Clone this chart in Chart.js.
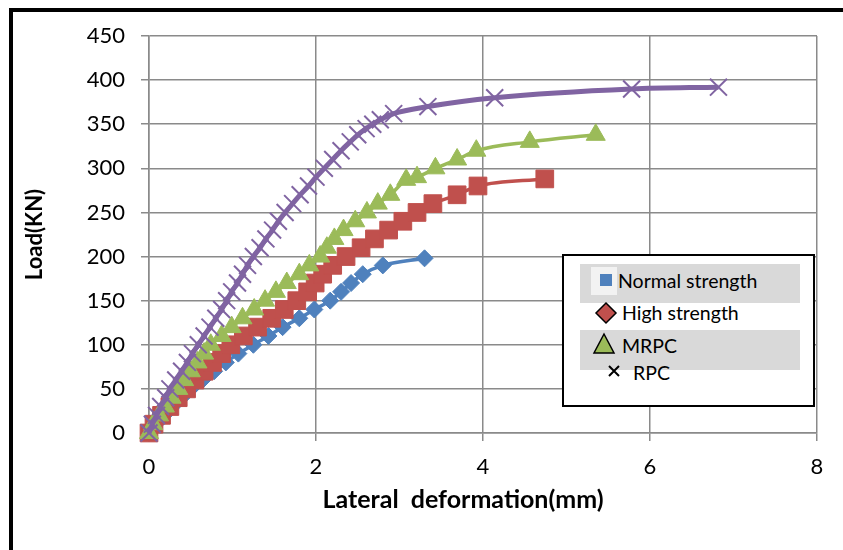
<!DOCTYPE html>
<html>
<head>
<meta charset="utf-8">
<script src="https://cdn.jsdelivr.net/npm/chart.js@4/dist/chart.umd.min.js"></script>
<style>
  body { margin: 0; background: #fff; }
  #wrap { position: relative; width: 843px; height: 550px; overflow: hidden; }
  #frame { position: absolute; left: 9px; top: 8px; width: 900px; height: 600px;
           border-left: 4px solid #000; border-top: 4px solid #000; }
  #legend { position: absolute; left: 562px; top: 254px; width: 249px; height: 149px;
            border: 2px solid #000; background: #fff; font-family: Lato, sans-serif;
            font-size: 19.5px; color: #000; }
  .band { position: absolute; left: 16px; width: 220px; background: #d9d9d9; }
  .item { position: absolute; white-space: nowrap; line-height: 20px; }
  .item svg { position: absolute; overflow: visible; }
</style>
</head>
<body>
<div id="wrap">
  <div id="frame"></div>
  <canvas id="chart"></canvas>
  <div id="legend">
    <div class="band" style="top:8px;height:39px"></div>
    <div class="band" style="top:74px;height:40px"></div>
    <div class="item" style="left:27px;top:11px;width:26px;height:28px;background:#f2f2f2"></div>
    <div class="item" style="left:36px;top:16px">
      <svg width="12" height="12" style="left:0;top:2px"><rect x="0" y="0" width="12" height="12" fill="#4F81BD"/></svg>
      <span style="position:absolute;left:18px;top:-1px">Normal strength</span>
    </div>
    <div class="item" style="left:30px;top:47px">
      <svg width="20" height="20" style="left:2px;top:0"><polygon points="10,0 20,10 10,20 0,10" fill="#C0504D" stroke="#000" stroke-width="1.5"/></svg>
      <span style="position:absolute;left:28px;top:0">High strength</span>
    </div>
    <div class="item" style="left:30px;top:80px">
      <svg width="20" height="20" style="left:0;top:-2px"><polygon points="10,0 20,19 0,19" fill="#9BBB59" stroke="#000" stroke-width="1.5"/></svg>
      <span style="position:absolute;left:28px;top:0">MRPC</span>
    </div>
    <div class="item" style="left:45px;top:107px">
      <svg width="10" height="10" style="left:0;top:3px"><path d="M0 0 L10 10 M10 0 L0 10" stroke="#000" stroke-width="2"/></svg>
      <span style="position:absolute;left:24px;top:0">RPC</span>
    </div>
  </div>
</div>
<script>
const normalLoad = [0, 10, 20, 30, 40, 50, 60, 70, 80, 90, 100, 110, 120, 130, 140, 150, 160, 170, 180, 190, 198]
const normalDef = [0, 0.08, 0.18, 0.28, 0.39, 0.5, 0.64, 0.78, 0.92, 1.07, 1.25, 1.43, 1.6, 1.8, 1.98, 2.17, 2.3, 2.42, 2.56, 2.8, 3.3]

const highLoad = [0, 10, 20, 30, 40, 50, 60, 70, 80, 90, 100, 110, 120, 130, 140, 150, 160, 170, 180, 190, 200, 210, 220, 230, 240, 250, 260, 270, 280, 288]
const highDef = [0, 0.06, 0.15, 0.25, 0.35, 0.45, 0.55, 0.66, 0.76, 0.87, 0.98, 1.13, 1.3, 1.47, 1.62, 1.77, 1.9, 1.99, 2.08, 2.2, 2.36, 2.54, 2.7, 2.87, 3.04, 3.21, 3.4, 3.69, 3.94, 4.74]

const mrpcLoad = [0, 10, 20, 30, 40, 50, 60, 70, 80, 90, 100, 110, 120, 130, 140, 150, 160, 170, 180, 190, 200, 210, 220, 230, 240, 250, 260, 270, 287, 290, 300, 310, 320, 330, 338]
const mrpcDef = [0, 0.05, 0.12, 0.19, 0.27, 0.35, 0.42, 0.5, 0.58, 0.66, 0.74, 0.87, 0.99, 1.12, 1.26, 1.39, 1.52, 1.65, 1.8, 1.92, 2.05, 2.13, 2.22, 2.33, 2.47, 2.61, 2.74, 2.89, 3.08, 3.21, 3.43, 3.69, 3.92, 4.56, 5.35]

const rpcLoad = [0, 10, 20, 30, 40, 50, 60, 70, 80, 90, 100, 110, 120, 130, 140, 150, 160, 170, 180, 190, 200, 210, 220, 230, 240, 250, 260, 270, 280, 290, 300, 310, 320, 330, 338, 345, 350, 355, 362, 370, 380, 390, 392]
const rpcDef = [0, 0.04, 0.09, 0.14, 0.2, 0.25, 0.32, 0.39, 0.46, 0.52, 0.59, 0.66, 0.73, 0.8, 0.87, 0.93, 0.99, 1.06, 1.12, 1.18, 1.25, 1.33, 1.4, 1.48, 1.55, 1.63, 1.72, 1.81, 1.91, 2.0, 2.1, 2.2, 2.3, 2.41, 2.5, 2.6, 2.68, 2.77, 2.93, 3.34, 4.14, 5.78, 6.82]

const xTicks = [0, 2, 4, 6, 8]
const yTicks = [0, 50, 100, 150, 200, 250, 300, 350, 400, 450]
const xTitle = 'Lateral  deformation(mm)'

function pts(xs, ys) {
  return xs.map((x, i) => ({ x: x, y: ys[i] }))
}

const cv = document.getElementById('chart')
cv.width = 843
cv.height = 550

const tickFont = { family: 'Lato', size: 22 }
const gridCol = '#8a8a8a'

// x title sits a little left of the plot centre in the original, so draw it by hand
const xTitlePlugin = {
  id: 'xTitle',
  afterDraw(chart) {
    const ctx = chart.ctx
    ctx.save()
    ctx.font = 'bold 25px Lato'
    ctx.fillStyle = '#000'
    ctx.textAlign = 'center'
    ctx.textBaseline = 'middle'
    ctx.fillText(xTitle, 463, 500)
    ctx.restore()
  }
}

function series(label, xs, ys, col, style, r, lw, bw, order) {
  return {
    label: label,
    data: pts(xs, ys),
    showLine: true,
    borderColor: col,
    backgroundColor: col,
    borderWidth: lw,
    pointStyle: style,
    pointRadius: r,
    pointBorderWidth: bw,
    cubicInterpolationMode: 'monotone',
    clip: false,
    order: order
  }
}

new Chart(cv.getContext('2d'), {
  type: 'scatter',
  data: {
    datasets: [
      series('Normal strength', normalDef, normalLoad, '#4F81BD', 'rectRot', 8.5, 3.5, 1, 4),
      series('High strength', highDef, highLoad, '#C0504D', 'rect', 12.5, 3.5, 1, 3),
      series('MRPC', mrpcDef, mrpcLoad, '#9BBB59', 'triangle', 11, 3.5, 1, 2),
      series('RPC', rpcDef, rpcLoad, '#8064A2', 'crossRot', 12, 5, 2, 1)
    ]
  },
  options: {
    responsive: false,
    animation: false,
    events: [],
    layout: { padding: { top: 36, right: 26, left: 0, bottom: 0 } },
    plugins: { legend: { display: false }, tooltip: { enabled: false } },
    scales: {
      x: {
        type: 'linear',
        min: 0,
        max: 8,
        afterBuildTicks: s => { s.ticks = xTicks.map(v => ({ value: v })) },
        afterFit: s => { s.height = 117 },
        ticks: { font: tickFont, color: '#000', padding: 13 },
        grid: { color: gridCol, lineWidth: 1.5, tickLength: 8 },
        border: { color: gridCol, width: 1.5 }
      },
      y: {
        type: 'linear',
        min: 0,
        max: 450,
        afterBuildTicks: s => { s.ticks = yTicks.map(v => ({ value: v })) },
        afterFit: s => { s.width = 149 },
        ticks: { font: tickFont, color: '#000', padding: 16 },
        grid: { color: gridCol, lineWidth: 1.5, tickLength: 8 },
        border: { color: gridCol, width: 1.5 },
        title: { display: true, text: 'Load(KN)', font: { family: 'Lato', size: 22, weight: 'bold' }, color: '#000', padding: { top: 22, bottom: 0 } }
      }
    }
  },
  plugins: [xTitlePlugin]
})
</script>
</body>
</html>
